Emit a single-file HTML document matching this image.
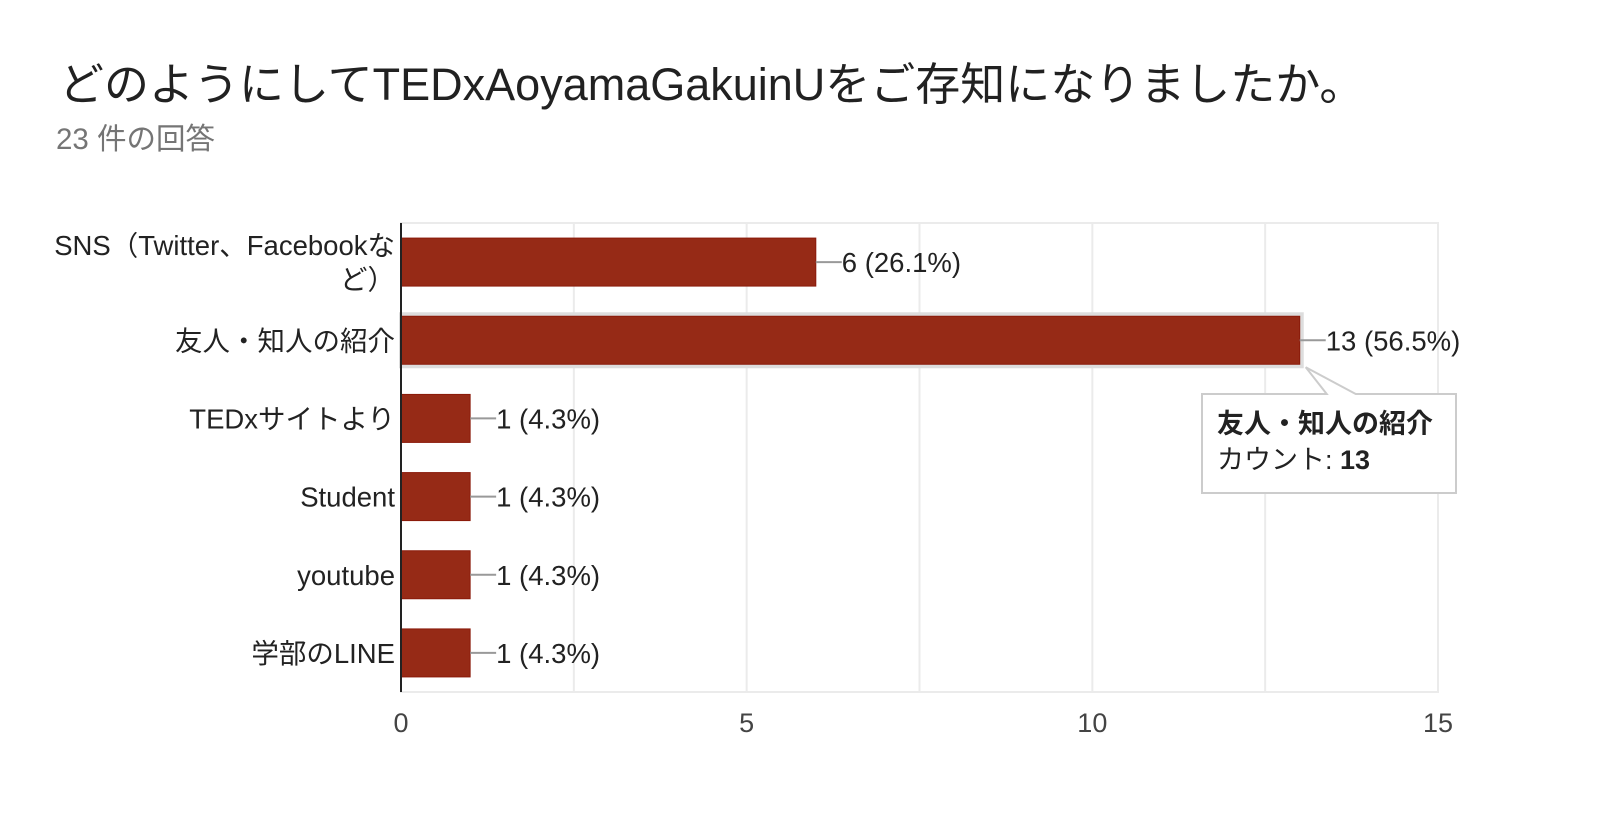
<!DOCTYPE html>
<html><head><meta charset="utf-8"><style>
body{margin:0;background:#fff;width:1600px;height:830px;overflow:hidden;font-family:"Liberation Sans","Noto Sans CJK JP",sans-serif;}
svg text{font-family:"Liberation Sans","Noto Sans CJK JP",sans-serif;}
</style></head><body>
<svg id="chart" width="1600" height="830" xmlns="http://www.w3.org/2000/svg">
<text x="59" y="100" font-size="45" fill="#212121">どのようにしてTEDxAoyamaGakuinUをご存知になりましたか。</text>
<text x="56" y="149" font-size="29.5" fill="#757575">23 件の回答</text>
<g id="grid"></g><g id="bars"></g><g id="labels"></g>
</svg>
<script>
const categories=[["SNS（Twitter、Facebookな","ど）"],["友人・知人の紹介"],["TEDxサイトより"],["Student"],["youtube"],["学部のLINE"]];
const values=[6,13,1,1,1,1];
const percents=["26.1%","56.5%","4.3%","4.3%","4.3%","4.3%"];
const ticks=[0,5,10,15];
const gridVals=[2.5,5,7.5,10,12.5,15];
const NS="http://www.w3.org/2000/svg";
const X0=401,X1=1438,Y0=223,Y1=692,MAX=15;
const x=v=>X0+(X1-X0)*v/MAX;
const band=(Y1-Y0)/categories.length;
const yc=i=>Y0+band*(i+0.5);
const BH=48;
function mk(t,a,p){const e=document.createElementNS(NS,t);for(const k in a)e.setAttribute(k,a[k]);p.appendChild(e);return e;}
const grid=document.getElementById('grid'),bars=document.getElementById('bars'),labels=document.getElementById('labels');
let r=mk('rect',{x:X0,y:Y0,width:X1-X0,height:Y1-Y0,fill:'none',stroke:'#ebebeb','stroke-width':2},grid);


gridVals.forEach(v=>{const l=mk('line',{x1:x(v),x2:x(v),y1:Y0,y2:Y1,stroke:'#ebebeb','stroke-width':2},grid);

});
ticks.forEach(v=>{const t=mk('text',{x:x(v),y:732,'font-size':27,'text-anchor':'middle',fill:'#444'},labels);t.textContent=v;

});
values.forEach((v,i)=>{
 const cy=yc(i);
 if(i===1){const s=mk('rect',{x:X0-2,y:cy-BH/2-4,width:x(v)-X0+6,height:BH+8,fill:'#ddd'},bars);
 
 }
 const b=mk('rect',{x:X0,y:cy-BH/2,width:x(v)-X0,height:BH,fill:'#962a16',stroke:'#8a1a0a','stroke-width':1},bars);
 
 
 const ln=mk('line',{x1:x(v),x2:x(v)+26,y1:cy,y2:cy,stroke:'#999','stroke-width':2},labels);
 
 
 const t=mk('text',{x:x(v)+26,y:cy+10,'font-size':27.5,fill:'#222'},labels);t.textContent=v+" ("+percents[i]+")";
 
 
 const c=categories[i];
 c.forEach((line,j)=>{const ct=mk('text',{x:395,y:cy+10+(j-(c.length-1)/2)*34,'font-size':27.5,'text-anchor':'end',fill:'#222'},labels);ct.textContent=line;
 
 });
});
const ax=mk('line',{x1:X0,x2:X0,y1:Y0,y2:Y1,stroke:'#222','stroke-width':2},labels);


const tg=mk('g',{},labels);


const bx=x(values[1]);
mk('path',{d:`M1202,394 L${bx+27},394 L${bx+6},${yc(1)+BH/2+3} L${bx+56},394 L1456,394 L1456,493 L1202,493 Z`,fill:'#fff',stroke:'#ccc','stroke-width':2},tg);
const t1=mk('text',{x:1217,y:433,'font-size':27,'font-weight':'bold',fill:'#222'},tg);t1.textContent=categories[1][0];


const t2=mk('text',{x:1217,y:469,'font-size':27,fill:'#222'},tg);t2.innerHTML='カウント: <tspan font-weight="bold">'+values[1]+'</tspan>';


</script>
</body></html>
